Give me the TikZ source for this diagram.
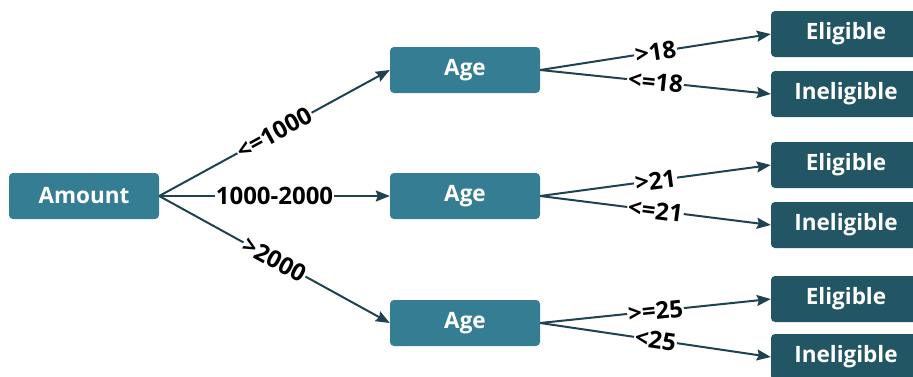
\documentclass[tikz,border=0pt]{standalone}
\usepackage{fontspec}
\setmainfont{Open Sans}
\usepackage{tikz}
\usetikzlibrary{arrows.meta}
\definecolor{cBox}{RGB}{52,125,146}
\definecolor{cLeaf}{RGB}{35,86,101}
\definecolor{cLine}{RGB}{31,66,80}

\begin{document}
\begin{tikzpicture}[x=1pt,y=-1pt,
  box/.style={fill=cBox,text=white,rounded corners=4pt,minimum width=150pt,minimum height=46pt,inner sep=0pt,font=\fontsize{22.5}{24}\selectfont\bfseries},
  leaf/.style={box,fill=cLeaf},
  link/.style={cLine,line width=2pt,-{Stealth[length=14pt,width=11pt,inset=2pt]}},
  cond/.style={fill=white,inner sep=1pt,text=black,sloped,font=\fontsize{24}{26}\selectfont\bfseries}]
\useasboundingbox (0,0) rectangle (913,376);
\node[box] (amount) at (84,196) {Amount};
\node[box] (age1) at (465,70) {Age};
\node[box] (age2) at (465,196) {Age};
\node[box] (age3) at (465,323) {Age};
\node[leaf] (el1) at (846,34) {Eligible};
\node[leaf] (in1) at (846,94) {Ineligible};
\node[leaf] (el2) at (846,165) {Eligible};
\node[leaf] (in2) at (846,225) {Ineligible};
\node[leaf] (el3) at (846,299) {Eligible};
\node[leaf] (in3) at (846,357) {Ineligible};
\draw[link] (amount.east) -- node[cond] {<=1000} (age1.west);
\draw[link] (amount.east) -- node[cond] {1000-2000} (age2.west);
\draw[link] (amount.east) -- node[cond] {>2000} (age3.west);
\draw[link] (age1.east) -- node[cond] {>18} (el1.west);
\draw[link] (age1.east) -- node[cond] {<=18} (in1.west);
\draw[link] (age2.east) -- node[cond] {>21} (el2.west);
\draw[link] (age2.east) -- node[cond] {<=21} (in2.west);
\draw[link] (age3.east) -- node[cond] {>=25} (el3.west);
\draw[link] (age3.east) -- node[cond] {<25} (in3.west);
\end{tikzpicture}
\end{document}
